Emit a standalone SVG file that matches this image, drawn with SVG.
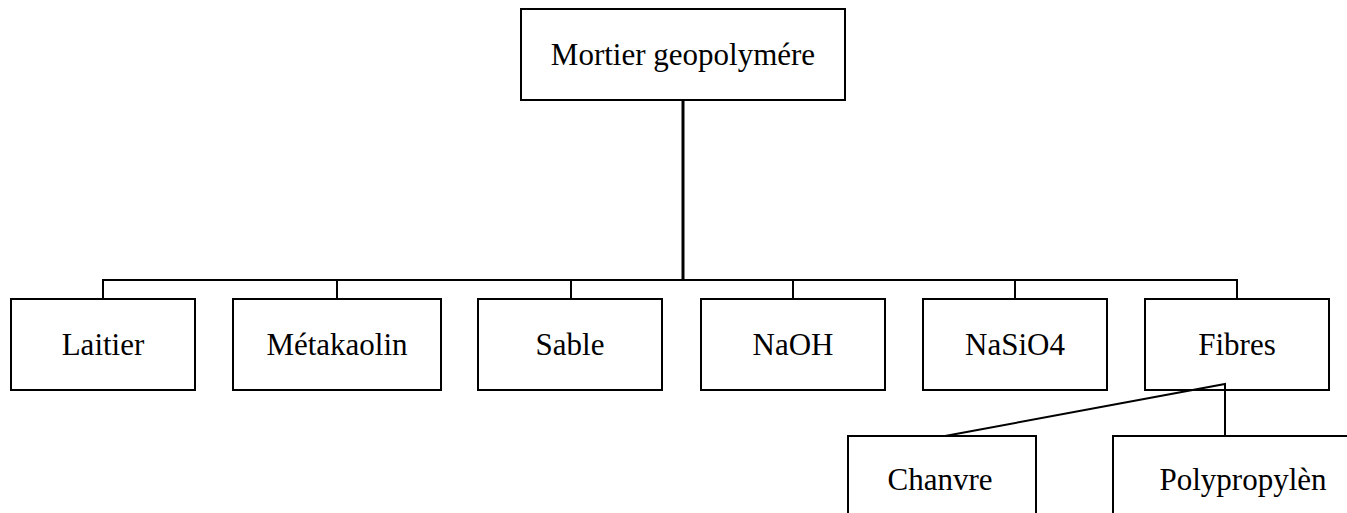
<svg xmlns="http://www.w3.org/2000/svg" width="1347" height="513" viewBox="0 0 1347 513">
<style>
.box{fill:#fff;stroke:#000;stroke-width:2}
.lbl{font-family:"Liberation Serif","Times New Roman",serif;font-size:31px;fill:#000;text-anchor:middle}
.con{fill:none;stroke:#000;stroke-width:2}
</style>
<rect width="1347" height="513" fill="#fff"/>
<g id="root"><rect class="box" x="521" y="9" width="324" height="91"/><text class="lbl" x="683" y="65">Mortier geopolymére</text></g>
<g id="laitier"><rect class="box" x="11" y="299" width="184" height="91"/><text class="lbl" x="103" y="355">Laitier</text></g>
<g id="metakaolin"><rect class="box" x="233" y="299" width="208" height="91"/><text class="lbl" x="337" y="355">Métakaolin</text></g>
<g id="sable"><rect class="box" x="478" y="299" width="184" height="91"/><text class="lbl" x="570" y="355">Sable</text></g>
<g id="naoh"><rect class="box" x="701" y="299" width="184" height="91"/><text class="lbl" x="793" y="355">NaOH</text></g>
<g id="nasio4"><rect class="box" x="923" y="299" width="184" height="91"/><text class="lbl" x="1015" y="355">NaSiO4</text></g>
<g id="fibres"><rect class="box" x="1145" y="299" width="184" height="91"/><text class="lbl" x="1237" y="355">Fibres</text></g>
<g id="chanvre"><rect class="box" x="848" y="436" width="188" height="100"/><text class="lbl" x="940" y="490">Chanvre</text></g>
<g id="polypropylen"><rect class="box" x="1113" y="436" width="260" height="100"/><text class="lbl" x="1243" y="490">Polypropylèn</text></g>
<g id="connectors">
<line class="con" x1="683" y1="100" x2="683" y2="280" style="stroke-width:3"/>
<polyline class="con" points="103,299 103,280 1237,280 1237,299"/>
<line class="con" x1="337" y1="280" x2="337" y2="299"/>
<line class="con" x1="571" y1="280" x2="571" y2="299"/>
<line class="con" x1="793" y1="280" x2="793" y2="299"/>
<line class="con" x1="1015" y1="280" x2="1015" y2="299"/>
<polyline class="con" points="945,436 1225,384 1225,436"/>
</g>
</svg>
